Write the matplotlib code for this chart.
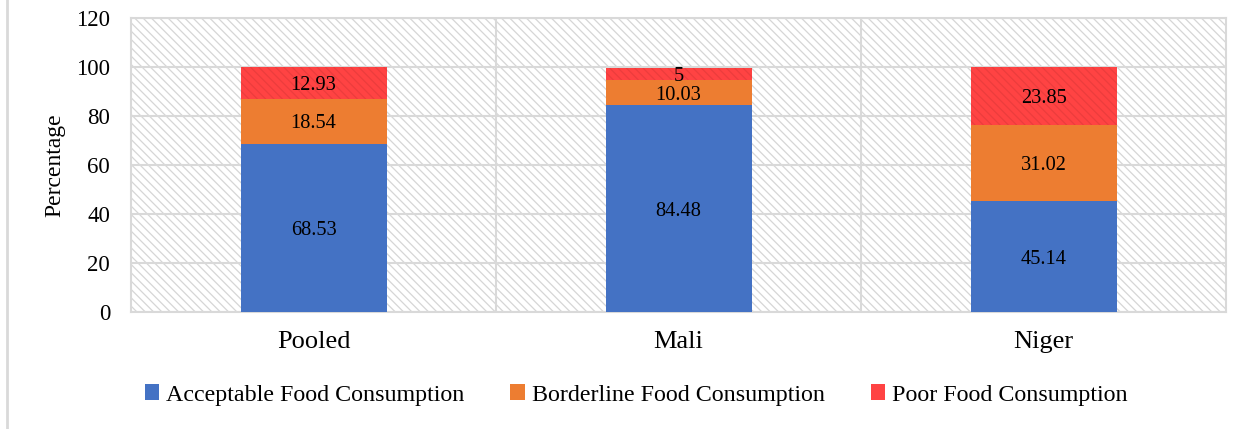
import matplotlib
matplotlib.use("Agg")
import matplotlib.pyplot as plt
from matplotlib.patches import Rectangle
from matplotlib.lines import Line2D
import numpy as np

categories = ["Pooled", "Mali", "Niger"]
acceptable = [68.53, 84.48, 45.14]
borderline = [18.54, 10.03, 31.02]
poor = [12.93, 5, 23.85]
series_names = ["Acceptable Food Consumption", "Borderline Food Consumption", "Poor Food Consumption"]
colors = ["#4472C4", "#ED7D31", "#FF4343"]

plt.rcParams['font.family'] = ['Liberation Serif', 'DejaVu Serif']
plt.rcParams['hatch.color'] = '#d6d6d6'
plt.rcParams['hatch.linewidth'] = 0.9

fig = plt.figure(figsize=(12.5, 4.29), dpi=100)
ax = fig.add_axes([131/1250, 1-312/429, (1226-131)/1250, (312-18)/429])

ax.set_xlim(-0.5, 2.5)
ax.set_ylim(0, 120)

# hatched background
bg = Rectangle((0, 0), 1, 1, transform=ax.transAxes, facecolor='white',
               edgecolor='#d6d6d6', hatch='\\\\\\\\', linewidth=0, zorder=0)
ax.add_patch(bg)

ax.set_yticks(np.arange(0, 121, 20))
ax.yaxis.grid(True, color='#d9d9d9', linewidth=1.5, zorder=1)
ax.set_axisbelow(True)
for xb in [0.5, 1.5]:
    ax.axvline(xb, color='#d9d9d9', linewidth=1.5, zorder=1)
for s in ax.spines.values():
    s.set_color('#d9d9d9')
    s.set_linewidth(1.5)
    s.set_zorder(1)

x = np.arange(len(categories))
w = 0.4
b1 = ax.bar(x, acceptable, w, color=colors[0], zorder=2, label=series_names[0])
b2 = ax.bar(x, borderline, w, bottom=acceptable, color=colors[1], zorder=2, label=series_names[1])
bottom3 = [a + b for a, b in zip(acceptable, borderline)]
b3 = ax.bar(x, poor, w, bottom=bottom3, color=colors[2], zorder=2, label=series_names[2],
            hatch='\\\\\\\\', edgecolor='#ec3d3d', linewidth=0)

for bars, vals, bots in [(b1, acceptable, [0]*3), (b2, borderline, acceptable), (b3, poor, bottom3)]:
    for xi, v, bo in zip(x, vals, bots):
        ax.text(xi, bo + v/2, f"{v:g}", ha='center', va='center_baseline', fontsize=14.7,
                color='black', zorder=3)

ax.set_xticks(x)
ax.set_xticklabels(categories, fontsize=19)
ax.tick_params(axis='x', length=0, pad=14)
ax.tick_params(axis='y', length=0, labelsize=16.5, pad=15)
ax.set_ylabel("Percentage", fontsize=17)
ax.yaxis.set_label_coords((55-131)/1095, 0.5)
ax.yaxis.label.set_verticalalignment('center')

handles = [Rectangle((0, 0), 1, 1, facecolor=c) for c in colors]
fig.legend(handles, series_names, loc='center', bbox_to_anchor=(0.509, 1-395/429), ncol=3,
           frameon=False, fontsize=17.3, handlelength=0.6, handleheight=0.6, handletextpad=0.3,
           columnspacing=1.9)

fig.add_artist(Line2D([7/1250, 7/1250], [0, 1], transform=fig.transFigure, color='#d9d9d9', linewidth=2))

fig.savefig("out.png", dpi=100)
